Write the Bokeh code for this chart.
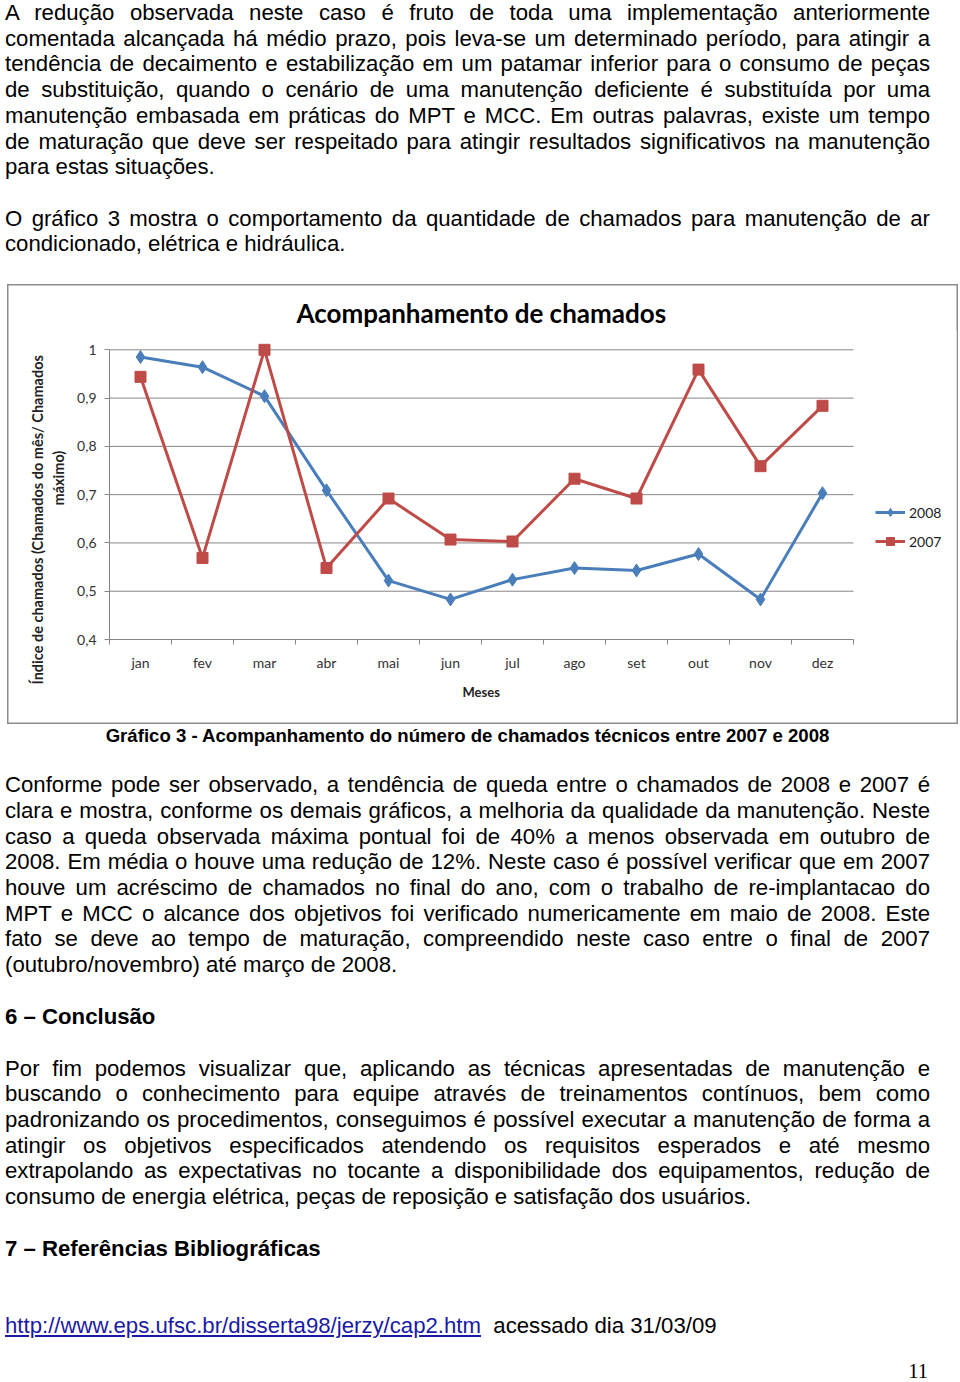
from bokeh.plotting import figure
from bokeh.models import (Div, FixedTicker, Legend, LegendItem, Title,
                          Range1d, ColumnDataSource)
from bokeh.layouts import column
from bokeh.embed import file_html
from bokeh.resources import INLINE

# ---------------- data ----------------
months = ["jan", "fev", "mar", "abr", "mai", "jun",
          "jul", "ago", "set", "out", "nov", "dez"]
s2008 = [0.985, 0.964, 0.904, 0.709, 0.522, 0.483,
         0.524, 0.548, 0.543, 0.577, 0.483, 0.703]
s2007 = [0.944, 0.569, 1.000, 0.548, 0.692, 0.607,
         0.603, 0.733, 0.692, 0.959, 0.759, 0.884]
y_ticks = [0.4, 0.5, 0.6, 0.7, 0.8, 0.9, 1.0]
y_tick_labels = ["0,4", "0,5", "0,6", "0,7", "0,8", "0,9", "1"]
series_names = ["2008", "2007"]
chart_title = "Acompanhamento de chamados"
x_title = "Meses"
y_title_lines = ["Índice de chamados  (Chamados do mês/ Chamados", "máximo)"]

para1 = [
    "A redução observada neste caso é fruto de toda uma implementação anteriormente",
    "comentada alcançada há médio prazo, pois leva-se um determinado período, para atingir a",
    "tendência de decaimento e estabilização em um patamar inferior para o consumo de peças",
    "de substituição, quando o cenário de uma manutenção deficiente é substituída por uma",
    "manutenção embasada em práticas do MPT e MCC. Em outras palavras, existe um tempo",
    "de maturação que deve ser respeitado para atingir resultados significativos na manutenção",
    "para estas situações.",
]
para2 = [
    "O gráfico 3 mostra o comportamento da quantidade de chamados para manutenção de ar",
    "condicionado, elétrica e hidráulica.",
]
caption = "Gráfico 3 - Acompanhamento do número de chamados técnicos entre 2007 e 2008"
para3 = [
    "Conforme pode ser observado, a tendência de queda entre o chamados de 2008 e 2007 é",
    "clara e mostra, conforme os demais gráficos, a melhoria da qualidade da manutenção. Neste",
    "caso a queda observada máxima pontual foi de 40% a menos observada em outubro de",
    "2008. Em média o houve uma redução de 12%. Neste caso é possível verificar que em 2007",
    "houve um acréscimo de chamados no final do ano, com o trabalho de re-implantacao do",
    "MPT e MCC o alcance dos objetivos foi verificado numericamente em maio de 2008. Este",
    "fato se deve ao tempo de maturação, compreendido neste caso entre o final de 2007",
    "(outubro/novembro) até março de 2008.",
]
heading6 = "6 – Conclusão"
para4 = [
    "Por fim podemos visualizar que, aplicando as técnicas apresentadas de manutenção e",
    "buscando o conhecimento para equipe através de treinamentos contínuos, bem como",
    "padronizando os procedimentos, conseguimos é possível executar a manutenção de forma a",
    "atingir os objetivos especificados atendendo os requisitos esperados e até mesmo",
    "extrapolando as expectativas no tocante a disponibilidade dos equipamentos, redução de",
    "consumo de energia elétrica, peças de reposição e satisfação dos usuários.",
]
heading7 = "7 – Referências Bibliográficas"
ref_link = "http://www.eps.ufsc.br/disserta98/jerzy/cap2.htm"
ref_note = "acessado dia 31/03/09"
page_number = "11"

# ---------------- text helpers ----------------
BODY_FONT = "'Liberation Sans', Arial, sans-serif"


def paragraph(lines, margin_top=0.0):
    out = [f'<div style="margin-top:{margin_top}px">']
    for i, ln in enumerate(lines):
        if i < len(lines) - 1:
            out.append('<div style="text-align:justify;text-align-last:justify">'
                       + ln + '</div>')
        else:
            out.append('<div style="text-align:left">' + ln + '</div>')
    out.append('</div>')
    return "".join(out)


wrap_style = (f"position:relative;left:5px;width:925px;font-family:{BODY_FONT};"
              "font-size:22.2px;line-height:25.7px;color:#000;")

top_html = (f'<div style="{wrap_style}top:0px;">'
            + paragraph(para1)
            + paragraph(para2, 25.7)
            + '</div>')

bottom_html = (
    f'<div style="{wrap_style}top:0px;height:640px;">'
    + f'<div style="text-align:center;font-weight:bold;font-size:18.6px;line-height:24px">{caption}</div>'
    + paragraph(para3, 24.2)
    + f'<div style="margin-top:26.4px;font-weight:bold">{heading6}</div>'
    + paragraph(para4, 25.7)
    + f'<div style="margin-top:25.7px;font-weight:bold">{heading7}</div>'
    + f'<div style="margin-top:52px;white-space:nowrap"><span style="color:#1a1aa6;text-decoration:underline">{ref_link}</span>&nbsp; {ref_note}</div>'
    + f'<div style="position:absolute;top:640px;right:2px;font-family:\'Liberation Serif\',\'Times New Roman\',serif;font-size:20.5px;line-height:14px">{page_number}</div>'
    + '</div>')

top_div = Div(text=top_html, width=944, height=284, margin=(0, 0, 0, 0))
bottom_div = Div(text=bottom_html, width=944, height=656, margin=(0, 0, 0, 0))

# ---------------- chart ----------------
n = len(months)
xc = [i + 0.5 for i in range(n)]
src = ColumnDataSource(dict(x=xc, m=months, a=s2008, b=s2007))
grid_src = ColumnDataSource(dict(y=y_ticks, x0=[0] * len(y_ticks),
                                 x1=[n] * len(y_ticks)))

AX = "#868686"
TXT = "#333333"
CFONT = "Lato"

FIG_W, FIG_H = 951, 440
BL, BR, BT, BB = 102, 2, 46, 85
cat_px = 62.0                       # width of one month slot in pixels
x_end = (FIG_W - BL - BR) / cat_px  # frame extends under the legend

p = figure(width=FIG_W, height=FIG_H,
           x_range=Range1d(0, x_end), y_range=Range1d(0.4, 1.04),
           output_backend="svg", toolbar_location=None,
           min_border_left=BL, min_border_right=BR,
           min_border_top=BT, min_border_bottom=BB,
           margin=(0, 0, 0, 7))
p.outline_line_color = None
p.background_fill_color = "white"
p.border_fill_color = None
p.styles = {"box-shadow": "inset 0 0 0 1.5px #8c8c8c",
            "background-color": "white"}

p.title.text = chart_title
p.title.align = "left"
p.title.offset = 187
p.title.text_font = CFONT
p.title.text_font_style = "bold"
p.title.text_font_size = "26px"
p.title.text_color = "#000000"
p.title.standoff = 3

p.xgrid.visible = False
p.ygrid.visible = False
p.segment(x0="x0", x1="x1", y0="y", y1="y", source=grid_src,
          line_color=AX, line_width=1)

xa = p.xaxis[0]
xa.ticker = FixedTicker(ticks=xc, minor_ticks=list(range(n + 1)))
xa.major_label_overrides = {x: m for x, m in zip(xc, months)}
xa.bounds = (0, n)
xa.major_tick_line_color = None
xa.major_tick_out = 0
xa.major_tick_in = 0
xa.minor_tick_out = 5
xa.minor_tick_in = 0
xa.minor_tick_line_color = AX
xa.axis_line_color = AX
xa.major_label_standoff = 9
xa.major_label_text_font = CFONT
xa.major_label_text_font_size = "14px"
xa.major_label_text_color = TXT

p.add_layout(Title(text=x_title, align="left", offset=353, standoff=16,
                   text_font=CFONT, text_font_style="bold",
                   text_font_size="13px", text_color="#222222"), "below")

ya = p.yaxis[0]
ya.ticker = FixedTicker(ticks=y_ticks)
ya.major_label_overrides = {t: s for t, s in zip(y_ticks, y_tick_labels)}
ya.bounds = (y_ticks[0], y_ticks[-1])
ya.minor_tick_line_color = None
ya.major_tick_out = 5
ya.major_tick_in = 0
ya.major_tick_line_color = AX
ya.axis_line_color = AX
ya.major_label_standoff = 8
ya.major_label_text_font = CFONT
ya.major_label_text_font_size = "14px"
ya.major_label_text_color = TXT

# two-line vertical axis title (inner line first)
for txt, so, off in [(y_title_lines[1], 15, 134), (y_title_lines[0], -10, -45)]:
    p.add_layout(Title(text=txt, align="left", offset=off, standoff=so,
                       text_font=CFONT, text_font_style="bold",
                       text_font_size="14.5px", text_color="#222222"), "left")

BLUE = "#4a7ebb"
RED = "#be4b48"
lb = p.line("x", "a", source=src, line_color=BLUE, line_width=3)
sb = p.scatter("x", "a", source=src, marker="diamond", size=13,
               fill_color=BLUE, line_color=BLUE)
lr = p.line("x", "b", source=src, line_color=RED, line_width=3)
sr = p.scatter("x", "b", source=src, marker="square", size=11,
               fill_color=RED, line_color=RED)

leg = Legend(items=[LegendItem(label=series_names[0], renderers=[lb, sb]),
                    LegendItem(label=series_names[1], renderers=[lr, sr])],
             location=(766, 88), padding=0, margin=0, spacing=9,
             glyph_width=30, glyph_height=20, label_height=20,
             label_standoff=4, border_line_color=None,
             background_fill_alpha=0,
             label_text_font=CFONT, label_text_font_size="14px",
             label_text_color="#222222")
p.add_layout(leg, "center")

layout = column(top_div, p, bottom_div)
open("out.html", "w").write(file_html(layout, INLINE))
